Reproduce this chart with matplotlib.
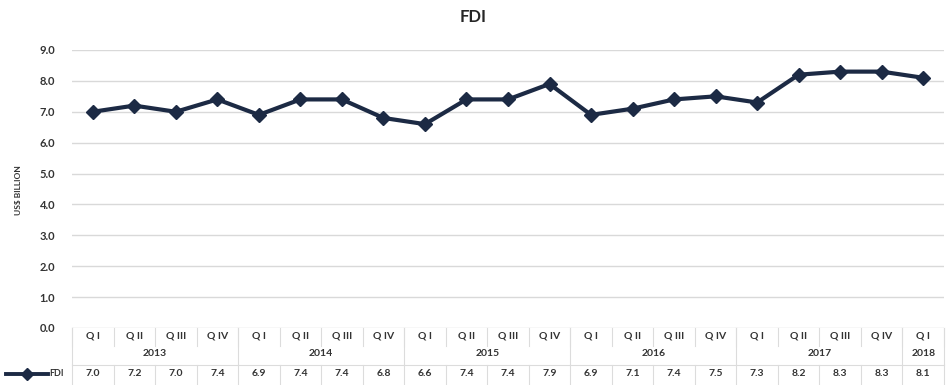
import matplotlib
matplotlib.use("Agg")
import matplotlib.pyplot as plt
from matplotlib.lines import Line2D
import matplotlib.transforms as mtransforms

quarters = ["Q I", "Q II", "Q III", "Q IV"] * 5 + ["Q I"]
years = ["2013", "2014", "2015", "2016", "2017", "2018"]
year_counts = [4, 4, 4, 4, 4, 1]
fdi = [7.0, 7.2, 7.0, 7.4, 6.9, 7.4, 7.4, 6.8, 6.6, 7.4, 7.4, 7.9,
       6.9, 7.1, 7.4, 7.5, 7.3, 8.2, 8.3, 8.3, 8.1]
series_name = "FDI"
title = "FDI"
ylabel = "US$ BILLION"

plt.rcParams['font.family'] = ['Lato', 'DejaVu Sans']

W, H = 946, 385
fig = plt.figure(figsize=(W / 100, H / 100), dpi=100)
left, right, top, bottom = 72, 944, 50, 328
ax = fig.add_axes([left / W, 1 - bottom / H, (right - left) / W, (bottom - top) / H])

line_color = "#1c2a44"
grid_color = "#d9d9d9"
text_color = "#333333"
border_color = "#dcdcdc"

n = len(fdi)
x = list(range(n))
ax.plot(x, fdi, color=line_color, lw=3.0, marker="D", ms=7,
        markerfacecolor=line_color, markeredgecolor=line_color, zorder=3)

ax.set_xlim(-0.5, n - 0.5)
ax.set_ylim(0, 9)
ax.set_yticks([i for i in range(10)])
ax.set_yticklabels([f"{i:.1f}" for i in range(10)], fontsize=8,
                   fontweight="bold", color=text_color)
ax.tick_params(axis="y", length=0, pad=12)
ax.set_xticks([])
ax.grid(axis="y", color=grid_color, lw=1)
for s in ax.spines.values():
    s.set_visible(False)

# title and ylabel
fig.text(473 / W, 1 - 17 / H, title, ha="center", va="center",
         fontsize=12, fontweight="bold", color="#262626")
fig.text(18 / W, 1 - 190 / H, ylabel, ha="center", va="center", rotation=90,
         fontsize=6, fontweight="bold", color=text_color)

# data table / multi-level axis below
trans = mtransforms.blended_transform_factory(ax.transData, fig.transFigure)

def fy(py):
    return 1 - py / H

q_row_y = 336
yr_row_y = 354
val_row_y = 374
q_sep_bot = 346
yr_sep_bot = 364
tbl_top = 365
tbl_bot = 385

for i in range(n):
    ax.text(i, fy(q_row_y), quarters[i], transform=trans, ha="center", va="center",
            fontsize=7.5, fontweight="bold", color=text_color)
    ax.text(i, fy(val_row_y), f"{fdi[i]:.1f}", transform=trans, ha="center", va="center",
            fontsize=7.5, fontweight="bold", color=text_color)

for i in range(n + 1):
    b = i - 0.5
    ax.add_line(Line2D([b, b], [fy(bottom), fy(q_sep_bot)], transform=trans,
                       color=border_color, lw=0.8, clip_on=False))
    ax.add_line(Line2D([b, b], [fy(tbl_top), fy(tbl_bot)], transform=trans,
                       color=border_color, lw=0.8, clip_on=False))

start = 0
for yr, c in zip(years, year_counts):
    ax.text(start + (c - 1) / 2, fy(yr_row_y), yr, transform=trans, ha="center",
            va="center", fontsize=7.5, fontweight="bold", color=text_color)
    b = start - 0.5
    ax.add_line(Line2D([b, b], [fy(bottom), fy(yr_sep_bot)], transform=trans,
                       color=border_color, lw=0.8, clip_on=False))
    start += c
b = start - 0.5
ax.add_line(Line2D([b, b], [fy(bottom), fy(yr_sep_bot)], transform=trans,
                   color=border_color, lw=0.8, clip_on=False))

ax.add_line(Line2D([-0.5, n - 0.5], [fy(tbl_top), fy(tbl_top)], transform=trans,
                   color=border_color, lw=0.8, clip_on=False))

# legend key in table
fig.add_artist(Line2D([6 / W, 48 / W], [fy(val_row_y), fy(val_row_y)],
                      color=line_color, lw=2.8, transform=fig.transFigure))
fig.add_artist(Line2D([27 / W], [fy(val_row_y)], color=line_color, marker="D",
                      ms=6.5, transform=fig.transFigure))
fig.text(49 / W, fy(val_row_y), series_name, ha="left", va="center",
         fontsize=6.5, fontweight="bold", color=text_color)

fig.savefig("out.png", dpi=100, facecolor="white")
